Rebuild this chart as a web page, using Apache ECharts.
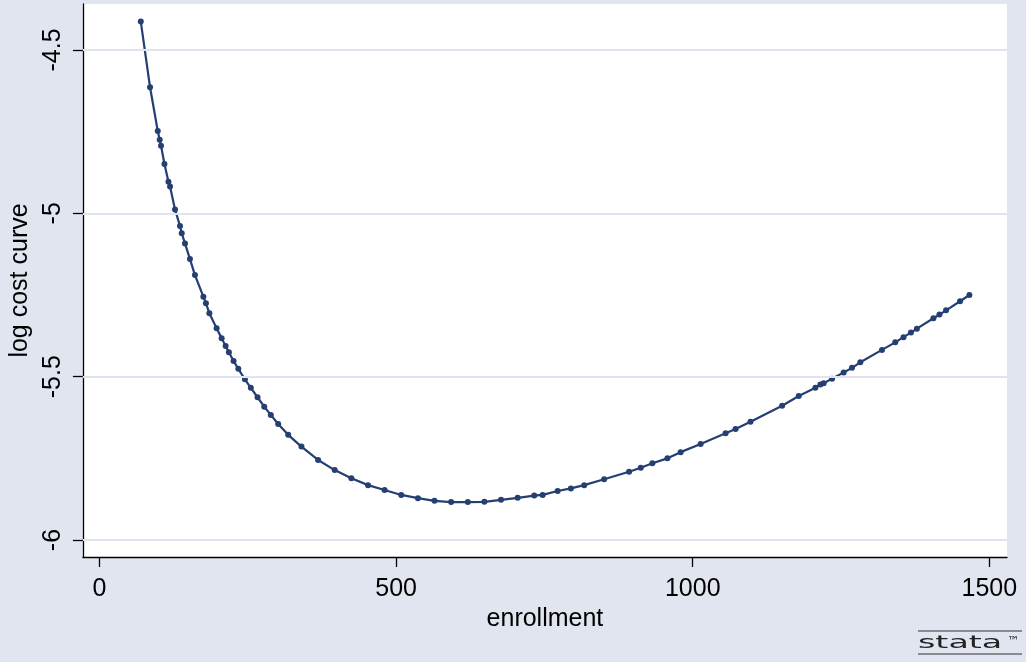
<!DOCTYPE html>
<html>
<head>
<meta charset="utf-8">
<script src="https://cdn.jsdelivr.net/npm/echarts@6/dist/echarts.min.js"></script>
<style>
html,body{margin:0;padding:0;background:#e1e5f0;}
#chart{width:1026px;height:662px;}
</style>
</head>
<body>
<div id="chart"></div>
<script>
const enrollment = [69.5, 85.1, 98.1, 101.4, 103.6, 109.4, 116.1, 118.8, 127.2, 135.6, 138.5, 144.0, 152.4, 160.8, 175.0, 179.3, 185.1, 197.3, 205.8, 212.5, 218.0, 225.9, 233.9, 245.0, 255.0, 266.3, 277.6, 288.7, 301.1, 318.0, 340.3, 368.4, 396.4, 424.5, 452.6, 480.5, 508.6, 536.7, 564.6, 592.7, 620.8, 648.7, 676.8, 704.9, 732.8, 747.0, 772.2, 794.6, 817.0, 850.6, 892.7, 912.4, 932.0, 957.3, 979.6, 1013.3, 1055.4, 1072.2, 1097.4, 1150.7, 1178.7, 1206.8, 1215.2, 1220.7, 1234.9, 1254.4, 1268.5, 1282.5, 1319.0, 1341.4, 1355.3, 1367.8, 1377.9, 1405.8, 1415.9, 1427.1, 1450.7, 1466.4];
const logCost = [-4.413, -4.614, -4.748, -4.775, -4.793, -4.849, -4.903, -4.918, -4.988, -5.039, -5.061, -5.092, -5.140, -5.189, -5.255, -5.275, -5.306, -5.352, -5.382, -5.406, -5.425, -5.452, -5.476, -5.508, -5.534, -5.563, -5.592, -5.617, -5.645, -5.678, -5.714, -5.755, -5.786, -5.811, -5.832, -5.847, -5.862, -5.872, -5.880, -5.884, -5.884, -5.883, -5.877, -5.871, -5.864, -5.862, -5.850, -5.842, -5.832, -5.814, -5.791, -5.779, -5.765, -5.750, -5.731, -5.706, -5.673, -5.660, -5.638, -5.589, -5.559, -5.534, -5.524, -5.520, -5.506, -5.487, -5.473, -5.456, -5.418, -5.395, -5.379, -5.365, -5.353, -5.321, -5.310, -5.297, -5.269, -5.250];
const xTicks = [0, 500, 1000, 1500];
const yTicks = [-6, -5.5, -5, -4.5];
const xTitle = 'enrollment';
const yTitle = 'log cost curve';

const FONT = 'Liberation Sans, Arial, Helvetica, sans-serif';
const LINE = '#253f72';
const chart = echarts.init(document.getElementById('chart'), null, {renderer: 'canvas'});
chart.setOption({
  animation: false,
  backgroundColor: '#e1e5f0',
  grid: {left: 81, right: 19, top: 4, bottom: 105, show: true, backgroundColor: '#ffffff', borderWidth: 0, containLabel: false},
  xAxis: {
    type: 'value', min: -28.1, max: 1529.8,
    name: xTitle, nameLocation: 'middle', nameGap: 45,
    nameTextStyle: {fontFamily: FONT, fontSize: 25, color: '#000'},
    axisLine: {show: true, onZero: false, lineStyle: {color: '#000', width: 1.3}},
    axisTick: {show: true, length: 10, customValues: xTicks, lineStyle: {color: '#000', width: 1.3}},
    axisLabel: {customValues: xTicks, margin: 20, fontFamily: FONT, fontSize: 25, color: '#000',
      formatter: v => String(v)},
    splitLine: {show: false}
  },
  yAxis: {
    type: 'value', min: -6.052, max: -4.3592,
    name: yTitle, nameLocation: 'middle', nameGap: 39, nameRotate: 90,
    nameTextStyle: {fontFamily: FONT, fontSize: 25, color: '#000'},
    axisLine: {show: true, onZero: false, lineStyle: {color: '#000', width: 1.3}},
    axisTick: {show: true, length: 10, customValues: yTicks, lineStyle: {color: '#000', width: 1.3}},
    axisLabel: {customValues: yTicks, rotate: 90, margin: 17, fontFamily: FONT, fontSize: 25, color: '#000',
      formatter: v => String(v)},
    splitLine: {show: false}
  },
  series: [
    {
      type: 'line', data: [], z: 1, silent: true,
      markLine: {
        silent: true, symbol: 'none', label: {show: false}, animation: false,
        lineStyle: {color: '#e0e4ee', width: 2, type: 'solid'},
        data: yTicks.map(v => ({yAxis: v}))
      }
    },
    {
      type: 'line', z: 3,
      data: enrollment.map((x, i) => [x, logCost[i]]),
      symbol: 'circle', symbolSize: 6, showSymbol: true, showAllSymbol: true,
      itemStyle: {color: LINE},
      lineStyle: {color: LINE, width: 2.2},
      smooth: false
    }
  ],
  graphic: [
    {type: 'line', shape: {x1: 918, y1: 631, x2: 1022, y2: 631}, style: {stroke: '#333', lineWidth: 1.2}},
    {type: 'line', shape: {x1: 918, y1: 654, x2: 1022, y2: 654}, style: {stroke: '#333', lineWidth: 1.2}},
    {type: 'text', x: 918, y: 634, scaleX: 1.85, style: {text: 'stata', font: '18px DejaVu Sans', fill: '#222', textVerticalAlign: 'top'}},
    {type: 'text', x: 1007, y: 636, style: {text: '™', font: '12px DejaVu Sans', fill: '#222', textVerticalAlign: 'top'}}
  ]
});
</script>
</body>
</html>
